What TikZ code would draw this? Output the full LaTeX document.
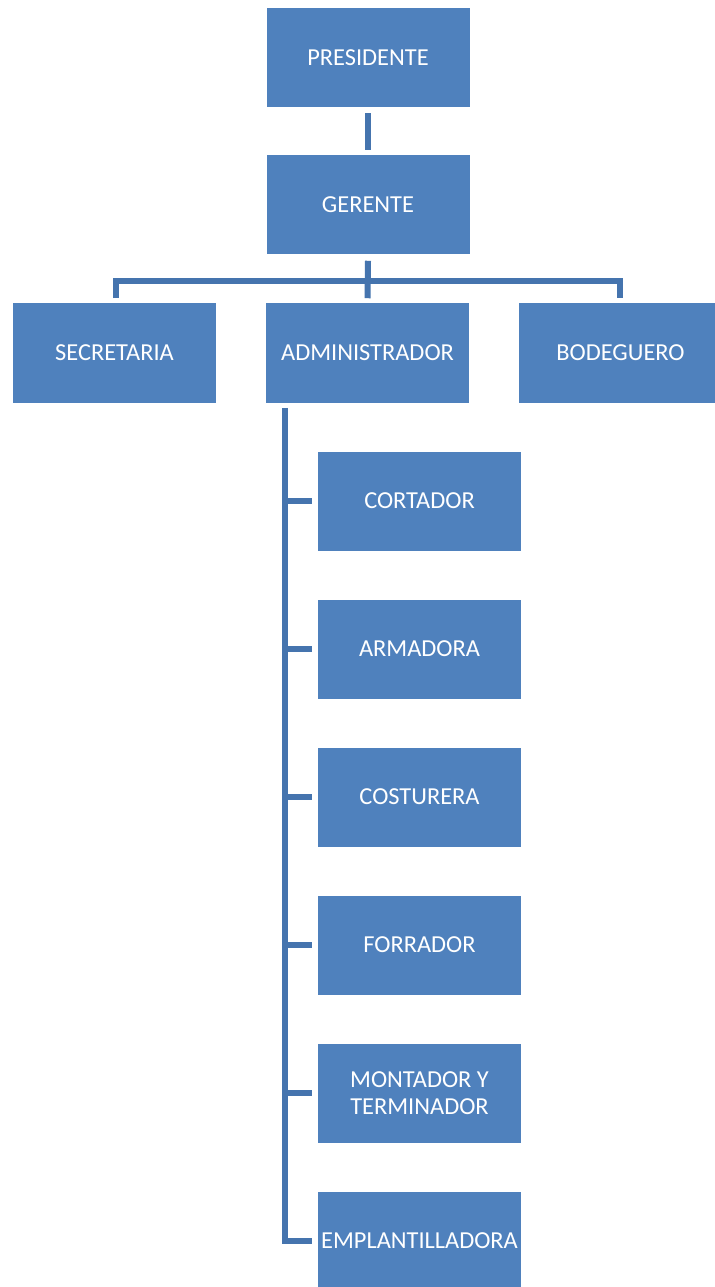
\documentclass[tikz,border=0pt]{standalone}
\usepackage{fontspec}
\setmainfont{Carlito}
\usetikzlibrary{calc}
\definecolor{boxblue}{HTML}{4F81BD}
\definecolor{connblue}{HTML}{4574AE}
\tikzset{
  orgbox/.style={rectangle, fill=boxblue, text=white, inner sep=0pt,
    minimum width=203*0.75pt, minimum height=99*0.75pt, align=center,
    font=\fontsize{18.3}{20}\selectfont},
  conn/.style={draw=connblue, line width=4.5pt, line join=miter, line cap=butt}
}
\begin{document}
\begin{tikzpicture}[x=0.75pt,y=-0.75pt]
\useasboundingbox[fill=white] (0,0) rectangle (714,1287);
\node[orgbox] (pres) at (368,57.5) {PRESIDENTE};
\node[orgbox] (ger) at (368,205) {GERENTE};
\node[orgbox] (sec) at (114.5,353) {SECRETARIA};
\node[orgbox] (adm) at (367.5,353) {ADMINISTRADOR};
\node[orgbox] (bod) at (620.5,353) {BODEGUERO};
\node[orgbox] (cort) at (419.5,501) {CORTADOR};
\node[orgbox] (arm) at (419.5,649) {ARMADORA};
\node[orgbox] (cost) at (419.5,797) {COSTURERA};
\node[orgbox] (forr) at (419.5,945) {FORRADOR};
\node[orgbox] (mont) at (419.5,1093) {MONTADOR Y\\TERMINADOR};
\node[orgbox] (empl) at (419.5,1241) {EMPLANTILLADORA};
% president - gerente
\draw[conn] ($(pres.south)+(0,6)$) -- ($(ger.north)+(0,-5)$);
% gerente - level 2
\coordinate (bar) at ($(ger.south)+(0,26)$);
\draw[conn] ($(ger.south)+(0,6)$) -- ($(adm.north)+(0,-5)$);
\draw[conn] ($(sec.north)+(1.5,-5)$) |- (bar) -| ($(bod.north)+(-0.5,-5)$);
% administrador spine
\coordinate (spine) at ($(adm.south)+(-82.5,5)$);
\draw[conn] (spine) |- ($(empl.west)+(-6,0)$);
\foreach \n in {cort,arm,cost,forr,mont}
  \draw[conn] (spine |- \n.west) -- ($(\n.west)+(-6,0)$);
\end{tikzpicture}
\end{document}
